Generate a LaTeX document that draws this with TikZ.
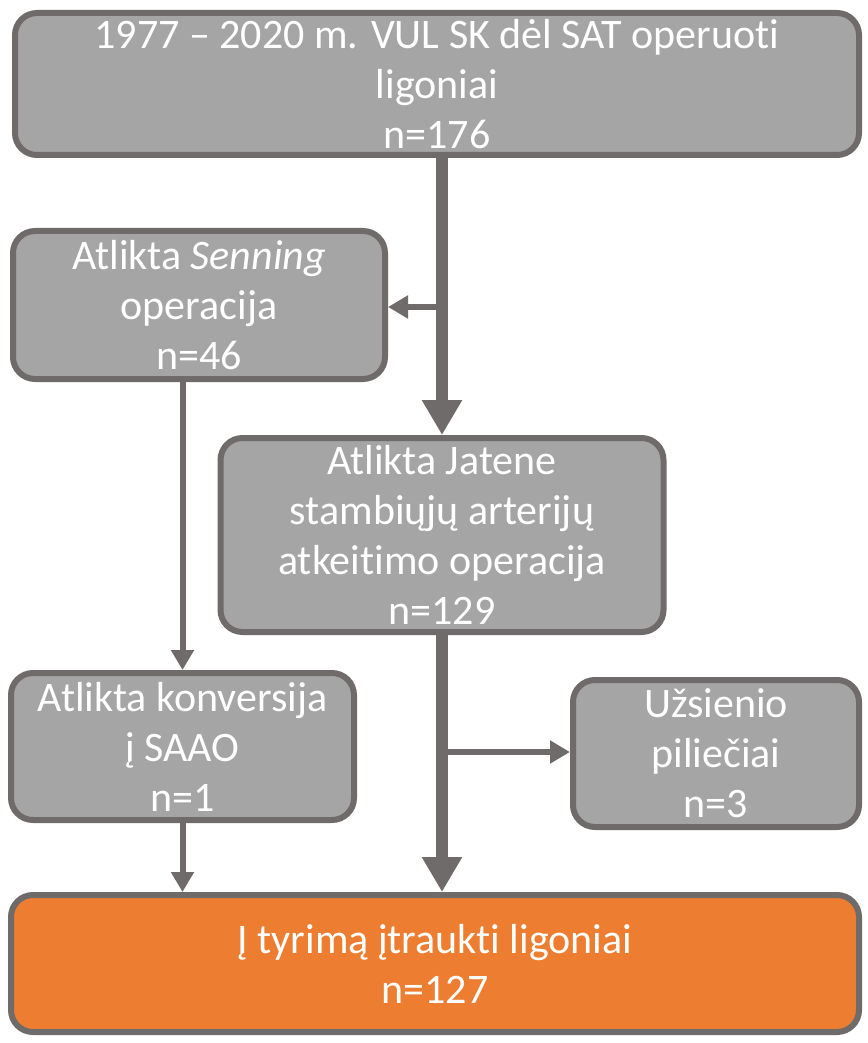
\documentclass[tikz,border=0pt]{standalone}
\usepackage{fontspec}
\setmainfont{Carlito}[Ligatures=NoCommon]
\usetikzlibrary{arrows.meta}
\definecolor{boxgray}{HTML}{A5A5A5}
\definecolor{linegray}{HTML}{706B6B}
\definecolor{incorange}{HTML}{ED7D31}
\tikzset{
  every picture/.style={line join=round, >=Stealth},
  box/.style={draw=linegray, fill=boxgray, line width=3pt, rounded corners=11pt,
    text=white, align=center, inner sep=0pt,
    font=\fontsize{21pt}{25pt}\selectfont},
  finalbox/.style={box, fill=incorange},
  mainflow/.style={draw=linegray, line width=6pt, -{Triangle[length=17.5pt,width=19pt]}},
  sideflow/.style={draw=linegray, line width=3pt, -{Triangle[length=10pt,width=11pt]}},
}

\begin{document}
\begin{tikzpicture}[x=0.5pt,y=-0.5pt]
\useasboundingbox (0,0) rectangle (867,1043);
\node[box, minimum width=422pt, minimum height=71pt] (all) at (437,84)
  {1977 -- 2020 m. VUL SK dėl SAT operuoti\\ligoniai\\n=176};
\node[box, minimum width=186pt, minimum height=74pt] (senning) at (199,305)
  {Atlikta \textit{Senning}\\operacija\\n=46};
\node[box, minimum width=221.5pt, minimum height=97pt] (jatene) at (442,535)
  {Atlikta Jatene\\stambiųjų arterijų\\atkeitimo operacija\\n=129};
\node[box, minimum width=171.5pt, minimum height=73.5pt] (konv) at (182.5,746.5)
  {Atlikta konversija\\į SAAO\\n=1};
\node[box, minimum width=143pt, minimum height=73.5pt] (foreign) at (716,753.5)
  {Užsienio\\piliečiai\\n=3};
\node[finalbox, minimum width=424pt, minimum height=68.5pt] (incl) at (435,963.5)
  {Į tyrimą įtraukti ligoniai\\n=127};
\coordinate (split1) at (442,307);
\coordinate (split2) at (442,752);
\draw[mainflow] (all.south -| jatene.north) -- (jatene.north);
\draw[sideflow] (split1) -- (split1 -| senning.east);
\draw[sideflow] (senning.south -| konv.north) -- (konv.north);
\draw[mainflow] (jatene.south) -- (incl.north -| jatene.south);
\draw[sideflow] (split2) -- (split2 -| foreign.west);
\draw[sideflow] (konv.south) -- (incl.north -| konv.south);
\end{tikzpicture}
\end{document}
